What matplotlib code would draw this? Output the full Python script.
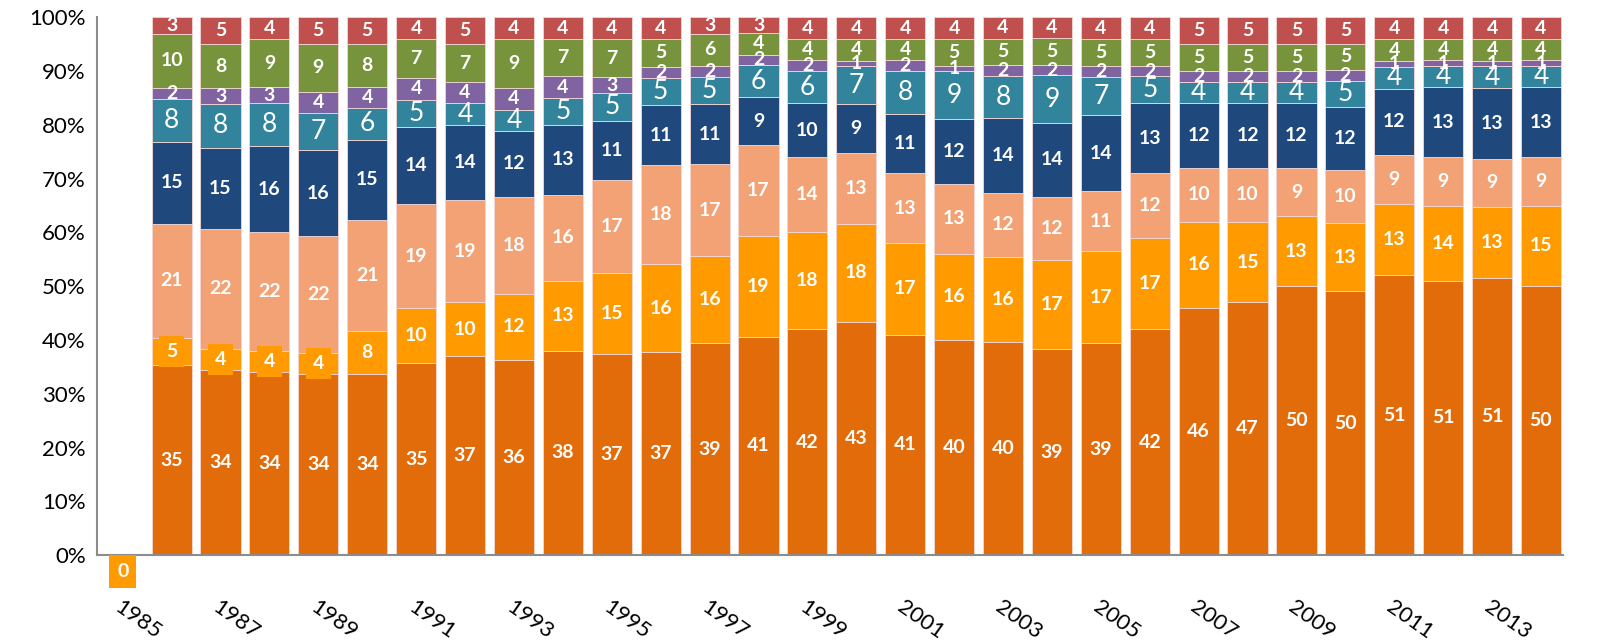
import matplotlib.pyplot as plt
import numpy as np

years = list(range(1985, 2015))

# rounded shares per year, 1986..2014 (1985 has no data)
s1 = [35, 34, 34, 34, 34, 35, 37, 36, 38, 37, 37, 39, 41, 42, 43, 41, 40, 40, 39, 39, 42, 46, 47, 50, 50, 51, 51, 51, 50]
s2 = [5, 4, 4, 4, 8, 10, 10, 12, 13, 15, 16, 16, 19, 18, 18, 17, 16, 16, 17, 17, 17, 16, 15, 13, 13, 13, 14, 13, 15]
s3 = [21, 22, 22, 22, 21, 19, 19, 18, 16, 17, 18, 17, 17, 14, 13, 13, 13, 12, 12, 11, 12, 10, 10, 9, 10, 9, 9, 9, 9]
s4 = [15, 15, 16, 16, 15, 14, 14, 12, 13, 11, 11, 11, 9, 10, 9, 11, 12, 14, 14, 14, 13, 12, 12, 12, 12, 12, 13, 13, 13]
s5 = [8, 8, 8, 7, 6, 5, 4, 4, 5, 5, 5, 5, 6, 6, 7, 8, 9, 8, 9, 7, 5, 4, 4, 4, 5, 4, 4, 4, 4]
s6 = [2, 3, 3, 4, 4, 4, 4, 4, 4, 3, 2, 2, 2, 2, 1, 2, 1, 2, 2, 2, 2, 2, 2, 2, 2, 1, 1, 1, 1]
s7 = [10, 8, 9, 9, 8, 7, 7, 9, 7, 7, 5, 6, 4, 4, 4, 4, 5, 5, 5, 5, 5, 5, 5, 5, 5, 4, 4, 4, 4]
s8 = [3, 5, 4, 5, 5, 4, 5, 4, 4, 4, 4, 3, 3, 4, 4, 4, 4, 4, 4, 4, 4, 5, 5, 5, 5, 4, 4, 4, 4]

series = [s1, s2, s3, s4, s5, s6, s7, s8]
colors = ["#E36C0A", "#FF9A00", "#F2A275", "#1F497D", "#31849B", "#8064A2", "#77933C", "#C0504D"]

plt.rcParams["font.family"] = ["Lato", "DejaVu Sans"]

fig = plt.figure(figsize=(16.13, 6.41), dpi=100)
ax = fig.add_axes([0.060, 0.134, 0.909, 0.839])

data = np.array(series, dtype=float)
totals = data.sum(axis=0)
pct = data / totals * 100
x = np.arange(1, len(years))

bottom = np.zeros(len(x))
for i, (vals, col) in enumerate(zip(series, colors)):
    h = pct[i]
    ax.bar(x, h, 0.82, bottom=bottom, color=col, edgecolor="#F4D6D6", linewidth=0.6)
    for xi, b, hh, v in zip(x, bottom, h, vals):
        kw = dict(ha="center", va="center", color="white")
        if i == 4:
            kw.update(fontsize=19)
        else:
            kw.update(fontsize=14, fontweight="bold")
        if i == 1 and v < 6:
            kw["bbox"] = dict(boxstyle="square,pad=0.35", fc=col, ec="none")
        ax.text(xi, b + hh / 2, str(v), **kw)
    bottom += h

# empty first year
ax.annotate("0", xy=(0, 0), xytext=(0, -12), textcoords="offset points",
            ha="center", va="center", color="white", fontsize=14, fontweight="bold",
            bbox=dict(boxstyle="square,pad=0.4", fc="#FF9A00", ec="none"))

ax.set_xlim(-0.53, len(years) - 0.55)
ax.set_ylim(0, 100)
ax.set_yticks(np.arange(0, 101, 10))
ax.set_yticklabels([f"{v}%" for v in range(0, 101, 10)], fontsize=16)
ax.set_xticks(np.arange(0, len(years), 2))
ax.set_xticklabels([str(y) for y in years[::2]], fontsize=16, rotation=-35,
                   ha="left", rotation_mode="anchor")
ax.tick_params(length=0)
ax.tick_params(axis="x", pad=30)
ax.tick_params(axis="y", pad=8)
for s in ["top", "right"]:
    ax.spines[s].set_visible(False)
for s in ["left", "bottom"]:
    ax.spines[s].set_color("#8C8C8C")
    ax.spines[s].set_linewidth(1.5)

fig.savefig("out.png", dpi=100)
